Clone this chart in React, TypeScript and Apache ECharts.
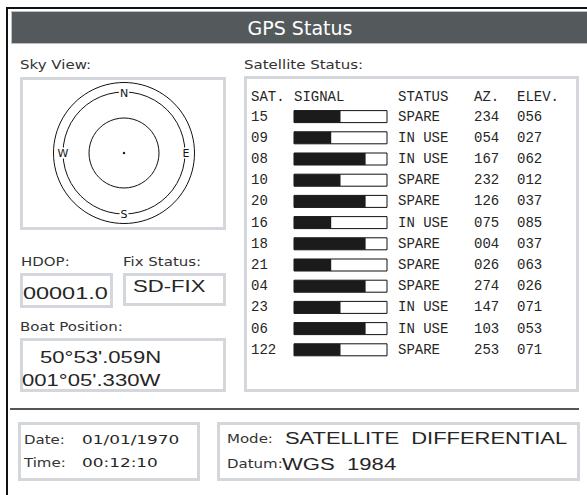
import React, { useEffect, useRef } from "react";
import * as echarts from "echarts";

// ---- data ----
const SAT_IDS = ["15", "09", "08", "10", "20", "16", "18", "21", "04", "23", "06", "122"];
const SIGNAL = [50, 40, 77, 50, 77, 40, 77, 40, 77, 50, 77, 50];
const STATUS = ["SPARE", "IN USE", "IN USE", "SPARE", "SPARE", "IN USE", "SPARE", "SPARE", "SPARE", "IN USE", "IN USE", "SPARE"];
const AZIMUTH = ["234", "054", "167", "232", "126", "075", "004", "026", "274", "147", "103", "253"];
const ELEVATION = ["056", "027", "062", "012", "037", "085", "037", "063", "026", "071", "053", "071"];
const COLUMN_HEADERS = ["SAT.", "SIGNAL", "STATUS", "AZ.", "ELEV."];
const COMPASS = ["N", "E", "S", "W"];
const TITLE = "GPS Status";
const HDOP = "00001.0";
const FIX_STATUS = "SD-FIX";
const LATITUDE = "50°53'.059N";
const LONGITUDE = "001°05'.330W";
const DATE = "01/01/1970";
const TIME = "00:12:10";
const MODE = "SATELLITE  DIFFERENTIAL";
const DATUM = "WGS  1984";

const TXT = "#262626";
const BOX = "#d3d7db";
const LABEL_FONT = { fontFamily: "DejaVu Sans", fontSize: 12 };
const MONO = "Liberation Mono";

function label(text: string, x: number, y: number, extra: any = {}) {
  return {
    type: "text",
    x,
    y,
    scaleX: 1.25,
    style: { text, fill: "#333", ...LABEL_FONT, textAlign: "left", textVerticalAlign: "middle", ...extra },
  };
}
function value(text: string, x: number, y: number, size: number, sx: number, family = "Liberation Sans") {
  return {
    type: "text",
    x,
    y,
    scaleX: sx,
    style: { text, fill: TXT, fontFamily: family, fontSize: size, textAlign: "left", textVerticalAlign: "middle" },
  };
}
function box(x: number, y: number, w: number, h: number) {
  return { type: "rect", shape: { x, y, width: w, height: h }, style: { fill: "#fff", stroke: BOX, lineWidth: 3 } };
}

export default function App() {
  const ref = useRef<HTMLDivElement>(null);
  useEffect(() => {
    document.body.style.margin = "0";
    const chart = echarts.init(ref.current!, null, { renderer: "svg" });
    const cx = 124, cy = 153;
    const compassPos: any = { N: [cx, cy - 60], E: [cx + 62, cy], S: [cx, cy + 61], W: [cx - 61, cy] };
    const headerX = [251, 294, 398, 474, 517];
    const baseY: any = {
      type: "category",
      data: SAT_IDS,
      inverse: true,
      axisLine: { show: false },
      axisTick: { show: false },
      splitLine: { show: false },
    };
    const lbl = { fontFamily: MONO, fontSize: 14, color: TXT, interval: 0 };
    chart.setOption({
      animation: false,
      backgroundColor: "#fff",
      grid: { left: 294, width: 93, top: 106, height: 254.4 },
      xAxis: { type: "value", min: 0, max: 100, show: false },
      yAxis: [
        { ...baseY, position: "left", axisLabel: { ...lbl, align: "left", margin: 43 } },
        { ...baseY, position: "right", axisLabel: { ...lbl, align: "left", margin: 11, formatter: (_v: any, i: number) => STATUS[i] } },
        { ...baseY, position: "right", axisLabel: { ...lbl, align: "left", margin: 87, formatter: (_v: any, i: number) => AZIMUTH[i] } },
        { ...baseY, position: "right", axisLabel: { ...lbl, align: "left", margin: 130, formatter: (_v: any, i: number) => ELEVATION[i] } },
      ],
      series: [
        {
          type: "bar",
          data: SIGNAL,
          barWidth: 12,
          itemStyle: { color: "#1b1b1b" },
          showBackground: true,
          backgroundStyle: { color: "#fff", borderColor: "#111", borderWidth: 1 },
          z: 5,
        },
      ],
      graphic: [
        // frame
        { type: "line", shape: { x1: 6, y1: 8, x2: 587, y2: 8 }, style: { stroke: "#111", lineWidth: 2 } },
        { type: "line", shape: { x1: 7, y1: 7, x2: 7, y2: 495 }, style: { stroke: "#111", lineWidth: 2 } },
        // header
        { type: "rect", shape: { x: 11.5, y: 11.5, width: 580, height: 32 }, style: { fill: "#545a5b", stroke: "#bcc0c2", lineWidth: 1 } },
        {
          type: "text",
          x: 300,
          y: 28,
          style: { text: TITLE, fill: "#fff", fontFamily: "DejaVu Sans", fontSize: 19, textAlign: "center", textVerticalAlign: "middle" },
        },
        // boxes
        box(21.5, 78.5, 203, 150),
        box(21.5, 274.5, 90, 32),
        box(124.5, 274.5, 100, 30),
        box(21.5, 339.5, 203, 51),
        { ...box(245.5, 77.5, 332, 313), z: -10 },
        box(19.5, 423.5, 179, 56),
        box(218.5, 423.5, 360, 56),
        // divider
        { type: "line", shape: { x1: 10, y1: 409, x2: 579, y2: 409 }, style: { stroke: "#555", lineWidth: 2 } },
        // sky view
        { type: "circle", shape: { cx, cy, r: 70.5 }, style: { fill: "none", stroke: "#111", lineWidth: 1 } },
        { type: "circle", shape: { cx, cy, r: 61 }, style: { fill: "none", stroke: "#111", lineWidth: 1 } },
        { type: "circle", shape: { cx, cy, r: 35 }, style: { fill: "none", stroke: "#111", lineWidth: 1 } },
        { type: "circle", shape: { cx, cy, r: 1.2 }, style: { fill: "#111" } },
        ...COMPASS.map((c) => ({
          type: "text",
          x: compassPos[c][0],
          y: compassPos[c][1],
          style: {
            text: c,
            fill: "#111",
            fontFamily: "DejaVu Sans",
            fontSize: 11,
            textAlign: "center",
            textVerticalAlign: "middle",
            backgroundColor: "#fff",
            padding: [0, 1],
          },
        })),
        // labels
        label("Sky View:", 20, 65),
        label("Satellite Status:", 244, 65),
        label("HDOP:", 21, 262),
        label("Fix Status:", 123, 262),
        label("Boat Position:", 20, 327),
        label("Date:", 24, 440),
        label("Time:", 24, 463),
        label("Mode:", 227, 439),
        label("Datum:", 227, 464),
        // values
        value(HDOP, 23, 293, 17, 1.38),
        value(FIX_STATUS, 133, 286, 17, 1.3),
        value(LATITUDE, 40, 357, 17, 1.3),
        value(LONGITUDE, 22, 380, 17, 1.3),
        value(DATE, 82, 440, 13, 1.3, "DejaVu Sans"),
        value(TIME, 82, 463, 13, 1.3, "DejaVu Sans"),
        value(MODE, 285, 438, 17, 1.29),
        value(DATUM, 282, 464, 17, 1.3),
        // table header
        ...COLUMN_HEADERS.map((h, i) => ({
          type: "text",
          x: headerX[i],
          y: 97,
          style: { text: h, fill: TXT, fontFamily: MONO, fontSize: 14, textAlign: "left", textVerticalAlign: "middle" },
        })),
      ],
    });
    return () => chart.dispose();
  }, []);
  return <div ref={ref} style={{ width: 587, height: 495 }} />;
}
